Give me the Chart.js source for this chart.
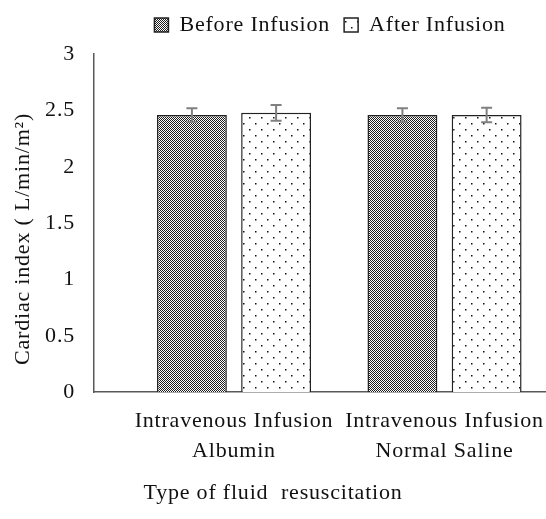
<!DOCTYPE html>
<html><head><meta charset="utf-8">
<script src="https://cdn.jsdelivr.net/npm/chart.js@4"></script>
<style>html,body{margin:0;padding:0;background:#fff}</style>
</head><body>
<canvas id="c" width="546" height="519" style="width:546px;height:519px;display:block"></canvas>
<script>
// ---- data ----
const categories = [['Intravenous Infusion', 'Albumin'], ['Intravenous Infusion', 'Normal Saline']];
const categoryPositions = [1, 2];
const seriesNames = ['Before Infusion', 'After Infusion'];
const beforeValues = [2.46, 2.46];
const afterValues = [2.48, 2.46];
const beforeErrors = [0.06, 0.06];
const afterErrors = [0.07, 0.065];
const yTicks = [0, 0.5, 1, 1.5, 2, 2.5, 3];
const yTitle = 'Cardiac index ( L/min/m\u00B2)     ';
const xTitle = 'Type of fluid  resuscitation';

// ---- patterns ----
function makePattern(draw, w, h) {
  const cv = document.createElement('canvas');
  cv.width = w; cv.height = h;
  const g = cv.getContext('2d');
  draw(g);
  return g.createPattern(cv, 'repeat');
}
const checkPattern = makePattern(g => {
  g.fillStyle = '#ffffff'; g.fillRect(0, 0, 2, 2);
  g.fillStyle = '#1c1c1c'; g.fillRect(0, 0, 1, 1); g.fillRect(1, 1, 1, 1);
}, 2, 2);
const dotPattern = makePattern(g => {
  g.fillStyle = '#ffffff'; g.fillRect(0, 0, 12, 12);
  g.fillStyle = '#111111'; g.fillRect(3, 3, 1.5, 1.5); g.fillRect(9, 9, 1.5, 1.5);
}, 12, 12);

Chart.defaults.font.family = "'Liberation Serif', 'Times New Roman', serif";
Chart.defaults.font.size = 22;
Chart.defaults.color = '#111';

const spacing = {
  id: 'spacing',
  beforeUpdate(chart) { chart.ctx.letterSpacing = '0.8px'; },
  beforeLayout(chart) { chart.ctx.letterSpacing = '0.8px'; },
  beforeDraw(chart) { chart.ctx.letterSpacing = '0.8px'; }
};
const errorBars = {
  id: 'errorBars',
  afterDatasetsDraw(chart) {
    const ctx = chart.ctx, ys = chart.scales.y;
    chart.data.datasets.forEach((ds, i) => {
      const meta = chart.getDatasetMeta(i);
      meta.data.forEach((bar, j) => {
        const v = ds.data[j].y, e = ds.errors[j];
        const top = ys.getPixelForValue(v + e), bot = ys.getPixelForValue(v - e);
        ctx.save();
        ctx.strokeStyle = '#808080'; ctx.lineWidth = 2;
        ctx.beginPath();
        ctx.moveTo(bar.x, top); ctx.lineTo(bar.x, bot);
        ctx.moveTo(bar.x - 5.5, top); ctx.lineTo(bar.x + 5.5, top);
        ctx.moveTo(bar.x - 5.5, bot); ctx.lineTo(bar.x + 5.5, bot);
        ctx.stroke();
        ctx.restore();
      });
    });
  }
};
const legendShift = {
  id: 'legendShift',
  afterLayout(chart) {
    const l = chart.legend, a = chart.chartArea;
    const d = (a.left + a.right) / 2 + 10 - (l.left + l.right) / 2;
    l.left += d; l.right += d;
  }
};

new Chart(document.getElementById('c'), {
  type: 'bar',
  data: {
    datasets: [
      { label: seriesNames[0], data: categoryPositions.map((x, i) => ({ x, y: beforeValues[i] })), errors: beforeErrors,
        backgroundColor: checkPattern, borderColor: '#222', borderWidth: 1.5 },
      { label: seriesNames[1], data: categoryPositions.map((x, i) => ({ x, y: afterValues[i] })), errors: afterErrors,
        backgroundColor: dotPattern, borderColor: '#222', borderWidth: 1.5 }
    ]
  },
  options: {
    responsive: false,
    animation: false,
    categoryPercentage: 0.80,
    barPercentage: 0.83,
    layout: { padding: { top: 0, right: 0, left: 0, bottom: 5 } },
    scales: {
      x: {
        type: 'linear', min: 0.335, max: 2.482, offset: false,
        afterBuildTicks: s => { s.ticks = categoryPositions.map(v => ({ value: v })); },
        afterFit: s => { s.paddingLeft = 0; s.paddingRight = 0; },
        ticks: { callback: v => categories[categoryPositions.indexOf(v)], font: { lineHeight: 1.35 }, padding: 14, maxRotation: 0, autoSkip: false },
        grid: { display: false, drawTicks: false },
        border: { color: '#595959', width: 1.5 }
      },
      y: {
        min: 0, max: 3,
        afterBuildTicks: s => { s.ticks = yTicks.map(v => ({ value: v })); },
        afterFit: s => { s.width = 94; },
        ticks: { callback: v => String(v), padding: 19 },
        grid: { display: false, drawTicks: false },
        border: { color: '#595959', width: 1.5 },
        title: { display: true, text: yTitle, padding: { top: 10, bottom: 0 } }
      }
    },
    plugins: {
      legend: {
        position: 'top',
        labels: { boxWidth: 14, boxHeight: 14, padding: 14 }
      },
      subtitle: { display: true, position: 'top', weight: 500, text: ' ', font: { size: 1 }, padding: { top: 3.5, bottom: 3.5 } },
      title: { display: true, position: 'bottom', text: xTitle, font: { weight: 'normal' }, padding: { top: 0, bottom: 8 } },
      tooltip: { enabled: false }
    }
  },
  plugins: [spacing, errorBars, legendShift]
});
</script>
</body></html>
